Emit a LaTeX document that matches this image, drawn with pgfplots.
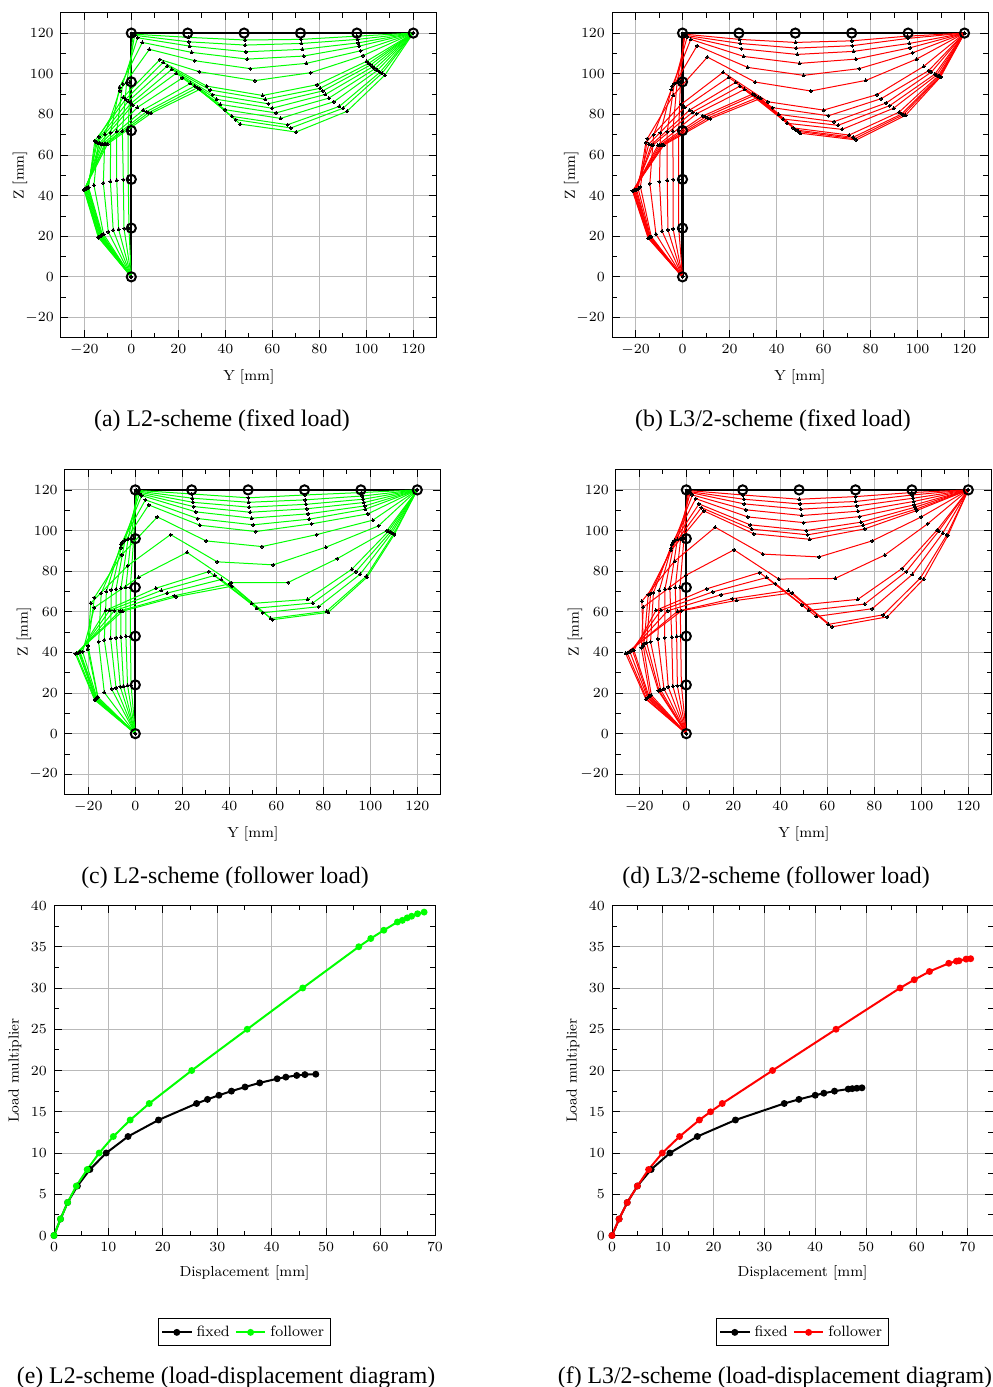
\documentclass[border=0pt]{standalone}
\usepackage{fontspec}
\usepackage{pgfplots}
\usepackage{pgfplotstable}
\pgfplotsset{compat=1.18}
\newfontfamily\capfont{Liberation Serif}
\definecolor{pure green}{rgb}{0,1,0}
\definecolor{pure red}{rgb}{1,0,0}

% rows: nodes along the frame; columns: Y and Z of the node at load steps 0..14
\pgfplotstableread{
y0 z0 y1 z1 y2 z2 y3 z3 y4 z4 y5 z5 y6 z6 y7 z7 y8 z8 y9 z9 y10 z10 y11 z11 y12 z12 y13 z13 y14 z14
0 0 0 0 0 0 0 0 0 0 0 0 0 0 0 0 0 0 0 0 0 0 0 0 0 0 0 0 0 0
-1.0 23.9 -3.1 23.8 -5.4 23.4 -7.7 23.0 -9.8 22.1 -11.8 21.0 -12.3 20.7 -12.6 20.5 -12.8 20.3 -13.0 20.2 -13.2 20.0 -13.5 19.8 -13.6 19.7 -13.9 19.5 -14.0 19.3
-1.3 48.0 -3.4 47.9 -6.2 47.5 -8.9 47.0 -11.9 46.2 -15.9 45.1 -18.2 44.1 -18.4 43.9 -18.7 43.8 -19.0 43.6 -19.3 43.4 -19.6 43.3 -19.9 43.1 -20.0 43.0 -20.1 42.8
-1.3 72.0 -3.8 71.8 -6.2 71.6 -8.8 71.0 -11.2 70.3 -13.8 69.0 -15.5 67.0 -15.0 66.4 -14.5 66.1 -13.6 65.7 -12.9 65.6 -12.2 65.4 -11.3 65.4 -10.8 65.4 -10.1 65.4
-0.6 95.9 -2.0 95.6 -3.7 94.9 -5.0 93.4 -5.0 91.5 -3.4 88.4 -2.4 87.4 -1.3 86.4 -0.1 85.4 0.7 84.6 2.6 83.4 5.0 82.1 6.4 81.3 7.4 80.8 8.4 80.5
0.6 119.5 1.4 118.9 2.7 117.7 4.7 115.4 7.7 112.0 12.2 107.0 13.6 105.6 15.3 103.8 17.2 102.1 19.1 100.2 21.7 97.9 25.1 95.2 27.0 93.9 28.1 93.1 29.2 92.3
24.3 117.9 24.5 115.7 24.8 113.6 25.7 110.5 27.0 106.4 28.9 101.0 32.1 93.9 33.5 92.0 34.6 89.7 36.3 87.4 37.9 84.9 39.9 82.3 42.8 79.0 44.4 77.4 46.4 75.2
48.4 116.6 48.5 114.1 48.8 110.8 49.4 107.2 50.6 102.5 52.6 96.6 55.9 89.3 57.0 87.4 58.3 85.2 59.9 83.0 61.6 80.7 63.5 78.0 66.5 74.9 67.9 73.3 70.1 71.3
72.2 116.9 72.4 114.9 72.8 112.0 73.3 108.7 74.5 105.1 76.3 100.5 79.1 94.6 80.3 92.8 81.4 91.5 82.6 89.8 84.1 88.0 86.2 86.2 88.5 83.9 90.1 83.0 91.8 81.5
96.0 118.5 96.3 116.9 96.6 115.2 97.0 113.6 97.6 111.3 98.6 108.9 100.1 106.1 101.0 105.1 101.8 104.3 102.7 103.4 103.7 102.5 104.7 101.6 105.8 100.7 106.7 100.2 107.9 99.3
120 120 120 120 120 120 120 120 120 120 120 120 120 120 120 120 120 120 120 120 120 120 120 120 120 120 120 120 120 120
}\tabA

\pgfplotstableread{
y0 z0 y1 z1 y2 z2 y3 z3 y4 z4 y5 z5 y6 z6 y7 z7 y8 z8 y9 z9 y10 z10 y11 z11 y12 z12 y13 z13 y14 z14
0 0 0 0 0 0 0 0 0 0 0 0 0 0 0 0 0 0 0 0 0 0 0 0 0 0 0 0 0 0
-1.6 23.9 -4.0 23.6 -6.2 23.1 -8.7 22.5 -11.3 21.0 -13.3 19.8 -13.6 19.7 -13.8 19.5 -13.9 19.5 -14.0 19.3 -14.2 19.3 -14.3 19.2 -14.4 19.2 -14.5 19.1 -14.6 19.0
-1.6 48.0 -4.0 47.9 -6.5 47.5 -9.8 46.9 -13.9 45.9 -17.9 44.3 -18.9 43.4 -19.6 43.0 -20.0 42.8 -20.4 42.6 -20.7 42.5 -20.9 42.5 -21.0 42.3 -21.1 42.3 -21.3 42.3
-1.6 72.0 -4.1 71.8 -6.5 71.5 -9.4 71.0 -12.3 70.0 -15.0 68.0 -15.6 66.1 -14.3 65.4 -13.2 65.1 -12.5 64.9 -10.5 64.8 -9.8 64.8 -9.1 64.8 -8.5 64.8 -7.9 64.9
-0.9 96.1 -2.3 95.7 -3.5 95.1 -4.4 93.9 -4.7 92.3 -4.0 89.3 -0.6 84.9 0.9 83.4 3.0 82.1 4.3 81.1 6.0 80.3 8.7 79.2 9.8 78.7 10.8 78.2 11.9 77.9
0.6 119.5 1.1 118.9 2.0 118.2 3.5 116.9 6.2 113.8 10.6 108.2 17.3 100.7 19.6 98.2 22.6 95.7 24.4 93.9 26.4 92.3 29.8 90.0 30.8 89.5 32.2 88.4 33.3 87.9
24.3 116.9 24.5 114.9 25.0 112.3 26.1 108.5 27.8 103.1 30.9 95.9 36.3 86.2 38.3 83.3 40.9 80.0 42.8 77.7 44.5 75.6 47.2 73.3 48.2 72.3 49.2 71.6 50.2 70.7
48.2 115.4 48.4 112.6 48.8 109.5 49.8 105.1 51.5 99.2 54.6 91.5 60.0 82.1 62.1 79.3 64.5 76.4 66.2 74.6 67.9 72.6 70.9 69.8 72.6 68.7 73.3 68.0 74.0 67.4
72.1 116.2 72.3 113.8 72.8 111.0 73.8 107.2 75.2 102.5 78.0 96.7 82.8 89.7 84.5 87.7 86.7 85.6 88.2 84.3 89.8 83.0 92.2 81.1 93.3 80.2 93.9 79.8 94.9 79.5
95.7 118.5 96.0 117.4 96.5 114.9 96.9 112.8 97.9 110.3 99.6 107.2 102.6 103.6 104.7 101.5 105.9 100.8 107.4 99.8 108.1 99.3 108.8 98.9 109.2 98.7 109.5 98.5 109.8 98.4
120 120 120 120 120 120 120 120 120 120 120 120 120 120 120 120 120 120 120 120 120 120 120 120 120 120 120 120 120 120
}\tabB

\pgfplotstableread{
y0 z0 y1 z1 y2 z2 y3 z3 y4 z4 y5 z5 y6 z6 y7 z7 y8 z8 y9 z9 y10 z10 y11 z11 y12 z12 y13 z13 y14 z14
0 0 0 0 0 0 0 0 0 0 0 0 0 0 0 0 0 0 0 0 0 0 0 0 0 0 0 0 0 0
-1.8 23.9 -3.3 23.8 -5.0 23.4 -6.4 23.1 -8.2 22.5 -10.1 22.0 -13.2 20.3 -15.9 18.0 -16.0 17.9 -16.3 17.5 -16.5 17.4 -16.6 17.2 -16.9 17.0 -17.0 16.7 -17.3 16.6
-2.1 48.0 -4.0 47.9 -6.1 47.5 -8.2 47.2 -10.5 46.9 -13.2 46.1 -15.6 45.2 -20.1 43.3 -20.3 41.6 -22.4 40.3 -23.5 40.3 -23.8 40.0 -24.1 39.8 -25.1 39.5 -25.5 39.3
-2.1 72.1 -4.0 72.0 -6.1 71.5 -8.2 71.1 -10.2 70.8 -12.3 70.0 -14.5 69.2 -17.4 67.0 -18.9 64.3 -17.4 62.1 -12.6 60.7 -10.9 60.7 -8.9 60.5 -6.4 60.5 -5.4 60.3
-0.7 96.1 -1.8 96.1 -3.1 95.7 -4.4 95.2 -5.4 94.4 -6.1 93.3 -6.1 91.6 -5.8 88.0 -3.3 82.6 1.4 77.0 8.8 71.6 11.1 70.5 13.5 69.2 16.6 67.9 17.4 67.4
0.4 119.8 0.7 119.5 1.1 119.0 1.8 118.2 2.7 117.2 4.3 115.1 5.7 112.6 9.4 106.7 15.0 98.0 22.0 89.2 31.3 79.8 33.8 77.9 36.6 75.9 40.4 73.8 41.1 72.6
24.1 118.0 24.3 115.9 24.5 113.9 24.8 111.8 25.7 109.2 26.5 105.9 27.5 102.6 30.1 94.9 34.8 84.6 40.9 74.4 49.5 64.1 51.6 61.8 54.2 59.5 57.6 56.7 58.4 56.1
48.1 116.1 48.2 113.9 48.5 111.5 48.9 109.0 49.5 106.1 50.2 102.8 51.3 99.5 53.9 92.1 58.7 83.1 65.0 74.4 73.3 66.1 75.5 64.3 78.0 62.5 81.4 60.3 82.1 59.7
72.1 117.5 72.3 115.1 72.6 112.9 73.0 110.7 73.5 108.2 74.0 105.6 75.0 103.3 77.2 98.0 81.1 91.8 86.0 86.2 92.2 81.0 93.9 79.8 95.7 78.5 98.2 77.4 98.6 77.0
96.3 118.7 96.6 117.0 96.9 115.4 97.3 113.8 97.6 112.1 97.9 110.5 99.0 108.2 101.1 105.1 103.5 102.3 107.1 100.0 107.8 99.7 108.5 99.2 109.2 98.9 109.9 98.4 110.2 98.0
120 120 120 120 120 120 120 120 120 120 120 120 120 120 120 120 120 120 120 120 120 120 120 120 120 120 120 120 120 120
}\tabC

\pgfplotstableread{
y0 z0 y1 z1 y2 z2 y3 z3 y4 z4 y5 z5 y6 z6 y7 z7 y8 z8 y9 z9 y10 z10 y11 z11 y12 z12 y13 z13 y14 z14
0 0 0 0 0 0 0 0 0 0 0 0 0 0 0 0 0 0 0 0 0 0 0 0 0 0 0 0 0 0
-2.1 23.8 -3.8 23.6 -5.7 23.3 -7.7 23.0 -9.5 22.1 -10.9 21.5 -11.6 21.3 -11.9 21.1 -14.9 19.0 -15.5 18.7 -15.9 18.4 -16.2 18.0 -16.5 17.7 -16.9 17.2 -17.2 17.0
-2.4 48.0 -4.1 47.9 -6.2 47.5 -9.2 47.2 -12.1 46.6 -15.2 45.2 -16.9 44.8 -18.0 44.3 -18.3 43.3 -19.1 42.3 -22.3 41.0 -23.0 41.3 -24.0 40.3 -25.1 39.7 -25.8 39.5
-2.7 72.0 -4.7 72.0 -7.0 71.5 -9.1 71.1 -11.5 70.5 -14.0 69.3 -15.2 68.9 -16.2 68.4 -18.9 65.2 -18.3 62.3 -12.9 60.7 -10.8 60.7 -7.9 60.5 -3.7 60.3 -2.0 60.5
-1.0 96.1 -2.4 95.9 -3.8 95.6 -5.0 95.1 -5.7 94.3 -6.2 93.0 -6.4 91.3 -6.5 90.2 -5.0 84.9 -0.3 77.9 8.7 71.3 11.3 69.8 14.8 68.4 19.6 66.4 21.4 65.6
0.6 119.7 1.1 119.2 1.7 118.7 2.6 117.5 4.0 115.7 5.4 113.1 6.4 111.3 7.4 109.7 12.3 101.6 20.3 90.5 31.2 79.3 34.3 76.9 37.9 73.9 43.3 70.5 45.1 69.3
24.1 117.5 24.5 115.4 24.7 113.1 25.4 110.2 26.1 106.7 27.2 102.8 27.8 100.7 28.7 98.4 32.5 88.4 39.3 76.1 49.2 63.4 52.1 60.7 55.3 57.7 60.4 53.8 62.1 52.6
48.1 115.4 48.4 113.1 48.7 110.5 49.2 107.4 49.9 103.9 51.1 100.0 51.6 97.9 52.5 95.7 56.5 87.0 63.3 76.4 73.0 66.1 75.9 63.8 79.1 61.5 83.8 58.5 85.5 57.5
72.1 116.7 72.2 114.3 72.5 112.1 73.0 109.5 73.8 106.9 74.3 104.1 75.2 102.5 75.9 100.8 79.1 94.9 84.4 87.9 91.8 81.3 93.6 79.8 96.2 78.4 99.6 76.6 101.0 76.1
96.0 118.7 96.2 117.5 96.5 115.9 96.7 114.3 97.0 112.6 97.4 111.5 97.7 110.5 98.0 109.8 100.0 106.7 102.7 103.3 106.7 100.2 107.4 99.7 109.1 98.7 110.9 97.9 111.3 97.5
120 120 120 120 120 120 120 120 120 120 120 120 120 120 120 120 120 120 120 120 120 120 120 120 120 120 120 120 120 120
}\tabD

\pgfplotsset{
  base/.style={
    scale only axis, anchor=south west,
    axis line style={line width=0.5pt},
    tick style={black, line width=0.4pt},
    major tick length=3.8pt, minor tick length=2.4pt,
    grid=major, grid style={gray!55, line width=0.45pt},
    tick label style={font=\fontsize{7.5}{9}\selectfont},
    label style={font=\fontsize{7.5}{9}\selectfont, scale=0.97},
    clip=false,
  },
  frame/.style={
    base, width=188pt, height=162.5pt,
    xmin=-30, xmax=130, ymin=-30, ymax=130,
    xtick={-20,0,...,120}, ytick={-20,0,...,120},
    minor x tick num=1, minor y tick num=1,
    xlabel={Y [mm]}, ylabel={Z [mm]},
    xlabel style={yshift=-0.5pt}, ylabel style={yshift=-8pt},
  },
  ref/.style={black, line width=1.1pt, mark=o, mark size=2.3pt,
    mark options={line width=1pt, solid}},
  def/.style={#1, line width=0.5pt, mark=*, mark size=0.75pt,
    mark options={black, fill=black, line width=0pt}},
  ld/.style={
    base, width=190.5pt, height=165pt,
    ymin=0, ymax=40, xmin=0,
    xtick={0,10,...,70}, ytick={0,5,...,40},
    minor x tick num=1, minor y tick num=1,
    xlabel={Displacement [mm]}, ylabel={Load multiplier},
    xlabel style={yshift=-0.5pt}, ylabel style={yshift=-2pt},
    legend style={at={(0.5,-0.2515)}, anchor=north, legend columns=2,
      font=\fontsize{7.5}{9}\selectfont, draw=black, line width=0.5pt,
      inner xsep=1.5pt, inner ysep=1.3pt,
      /tikz/every even column/.append style={column sep=0.5pt}},
    legend image code/.code={\draw[mark repeat=2,mark phase=2,##1] plot coordinates {(0cm,0cm)(0.26cm,0cm)(0.52cm,0cm)};},
  },
  curve/.style={#1, line width=1pt, mark=*, mark size=1.2pt, mark options={#1, fill=#1, solid}},
}

\newcommand{\refframe}{\addplot[ref] coordinates {(0,0)(0,24)(0,48)(0,72)(0,96)(0,120)(24,120)(48,120)(72,120)(96,120)(120,120)};}

\begin{document}
\begin{tikzpicture}[x=1pt,y=1pt]
\useasboundingbox (0,0) rectangle (496,693.5);

\begin{axis}[frame, at={(30.4pt,524.6pt)}]
\refframe
\pgfplotsinvokeforeach{0,...,14}{\addplot[def=pure green] table[x=y#1,y=z#1]{\tabA};}
\end{axis}

\begin{axis}[frame, at={(306pt,524.6pt)}]
\refframe
\pgfplotsinvokeforeach{0,...,14}{\addplot[def=pure red] table[x=y#1,y=z#1]{\tabB};}
\end{axis}

\begin{axis}[frame, at={(32.4pt,296.2pt)}]
\refframe
\pgfplotsinvokeforeach{0,...,14}{\addplot[def=pure green] table[x=y#1,y=z#1]{\tabC};}
\end{axis}

\begin{axis}[frame, at={(307.9pt,296.2pt)}]
\refframe
\pgfplotsinvokeforeach{0,...,14}{\addplot[def=pure red] table[x=y#1,y=z#1]{\tabD};}
\end{axis}

\begin{axis}[ld, xmax=70, at={(27pt,75.75pt)}]
\addplot[curve=black] coordinates {(0,0)(1.2,2)(2.5,4)(4.3,6)(6.6,8)(9.6,10)(13.6,12)(19.2,14)(26.2,16)(28.2,16.5)(30.3,17)(32.6,17.5)(35.1,18)(37.8,18.5)(41,19)(42.6,19.2)(44.6,19.4)(46.1,19.5)(48.1,19.55)};
\addplot[curve=pure green] coordinates {(0,0)(1.2,2)(2.5,4)(4.1,6)(6.1,8)(8.3,10)(10.9,12)(14,14)(17.5,16)(25.3,20)(35.5,25)(45.7,30)(56,35)(58.2,36)(60.6,37)(63.1,38)(64,38.2)(64.9,38.5)(65.7,38.7)(66.8,39)(68,39.2)};
\legend{fixed,follower}
\end{axis}

\begin{axis}[ld, xmax=75, at={(306pt,75.75pt)}]
\addplot[curve=black] coordinates {(0,0)(1.4,2)(3,4)(5,6)(7.7,8)(11.4,10)(16.8,12)(24.3,14)(33.9,16)(36.8,16.5)(40,17)(41.7,17.25)(43.8,17.5)(46.5,17.75)(47.3,17.8)(48.2,17.85)(49.2,17.9)};
\addplot[curve=pure red] coordinates {(0,0)(1.4,2)(3,4)(5,6)(7.2,8)(9.9,10)(13.3,12)(17.2,14)(19.4,15)(21.7,16)(31.6,20)(44.1,25)(56.7,30)(59.5,31)(62.5,32)(66.3,33)(67.8,33.25)(68.3,33.3)(69.7,33.5)(70.6,33.55)};
\legend{fixed,follower}
\end{axis}

\begin{scope}[every node/.style={font=\capfont\fontsize{11.9}{13}\selectfont, inner sep=0pt}]
\node at (111,483) {(a) L2-scheme (fixed load)};
\node at (386.5,483) {(b) L3/2-scheme (fixed load)};
\node at (112.5,254.5) {(c) L2-scheme (follower load)};
\node at (388,254.5) {(d) L3/2-scheme (follower load)};
\node at (113,4.5) {(e) L2-scheme (load-displacement diagram)};
\node at (387.5,4.5) {(f) L3/2-scheme (load-displacement diagram)};
\end{scope}
\end{tikzpicture}
\end{document}
